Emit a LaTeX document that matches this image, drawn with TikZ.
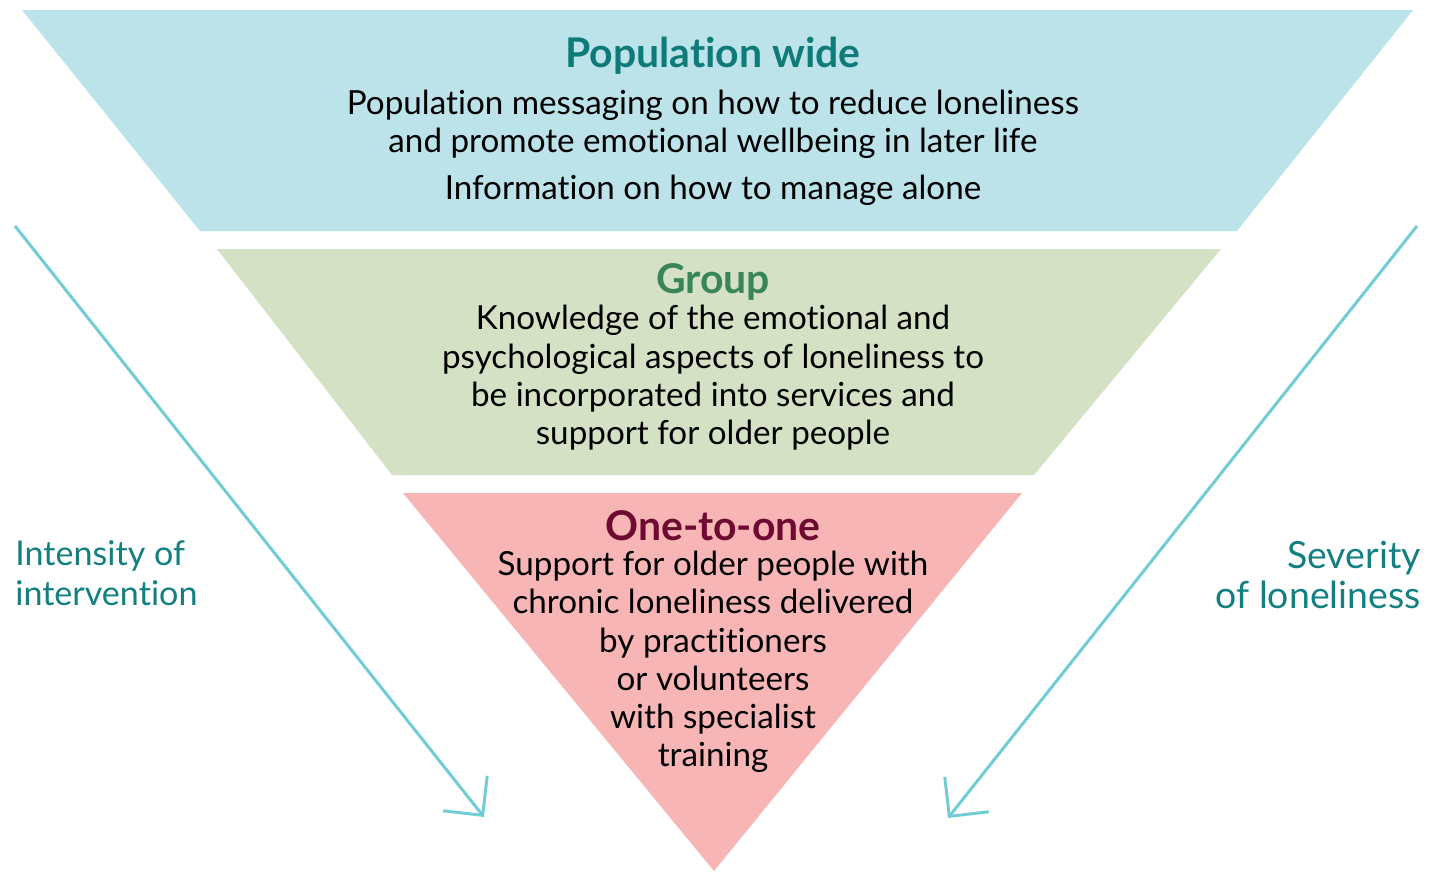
\documentclass[tikz,border=0pt]{standalone}
\usepackage{fontspec}
\setmainfont{Lato}[Ligatures=NoCommon]
\usetikzlibrary{arrows.meta}
\definecolor{popblue}{HTML}{BCE3EA}
\definecolor{groupgreen}{HTML}{D4E1C5}
\definecolor{onepink}{HTML}{F7B5B6}
\definecolor{popteal}{HTML}{0F7B78}
\definecolor{groupdark}{HTML}{3A845A}
\definecolor{onemaroon}{HTML}{6E0A32}
\definecolor{sideteal}{HTML}{137F80}
\definecolor{arrowcyan}{HTML}{72CCD5}

\begin{document}
\begin{tikzpicture}[x=0.02cm, y=-0.02cm,
    title/.style={font=\fontsize{23.3}{26}\selectfont\bfseries, inner sep=0pt},
    body/.style={font=\fontsize{18.9}{21.8}\selectfont, align=center, inner sep=0pt},
    side/.style={font=\fontsize{19.4}{22.6}\selectfont, text=sideteal, inner sep=0pt},
    pointer/.style={draw=arrowcyan, line width=1.7pt, -{Straight Barb[length=16pt, width=32pt]}}]
         \useasboundingbox (0,0) rectangle (1431,872);
         % the three tiers
         \fill [popblue] (22,10) -- (1413,10) -- (1237,231) -- (200,231) -- cycle;
         \fill [groupgreen] (217,249) -- (1221,249) -- (1034,475) -- (392,475) -- cycle;
         \fill [onepink] (403,493) -- (1022,493) -- (714,871) -- cycle;
         \node [title, text=popteal] (PT) at (713,56) {Population wide};
         \node [body] (PB) at (713,124) {Population messaging on how to reduce loneliness\\and promote emotional wellbeing in later life};
         \node [body] (PI) at (713,190) {Information on how to manage alone};
         \node [title, text=groupdark] (GT) at (713,282) {Group};
         \node [body] (GB) at (713,378) {Knowledge of the emotional and\\psychological aspects of loneliness to\\be incorporated into services and\\support for older people};
         \node [title, text=onemaroon] (OT) at (713,526) {One-to-one};
         \node [body] (OB) at (713,662) {Support for older people with\\chronic loneliness delivered\\by practitioners\\or volunteers\\with specialist\\training};
         % side labels
         \node [side, align=left, anchor=west] (LT) at (15,573) {Intensity of\\intervention};
         \node [side, font=\fontsize{21.3}{23}\selectfont, align=right, anchor=east] (RT) at (1421,575) {Severity\\of loneliness};
         \coordinate (LS) at (15,226);
         \coordinate (LE) at (484,817);
         \coordinate (RS) at (1417,226);
         \coordinate (RE) at (948,818);
         \draw [pointer] (LS) -- (LE);
         \draw [pointer] (RS) -- (RE);
\end{tikzpicture}
\end{document}
